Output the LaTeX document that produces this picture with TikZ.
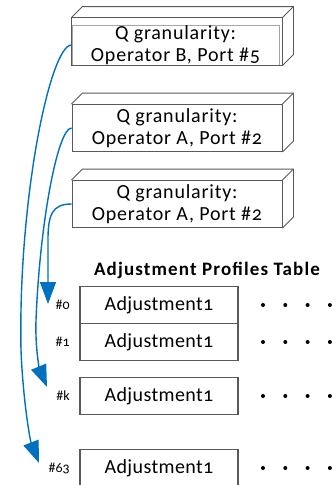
\documentclass[tikz,border=0pt]{standalone}
\usepackage{fontspec}
\setmainfont{Carlito}[Numbers=OldStyle]
\usetikzlibrary{arrows.meta,calc,positioning}
\definecolor{flowblue}{RGB}{0,112,192}
\definecolor{edgegray}{RGB}{89,89,89}
\tikzset{
  >=Latex,
  qbox/.style={draw=edgegray, line width=0.9pt, minimum width=210pt, minimum height=47pt, inner sep=0pt, align=center, font=\fontsize{20}{22}\selectfont\addfontfeature{LetterSpace=4}},
  face/.style={draw=edgegray, line width=0.9pt},
  row/.style={draw=edgegray, line width=1.2pt, minimum width=158pt, minimum height=37pt, inner sep=0pt, outer sep=0pt, font=\fontsize{20}{22}\selectfont\addfontfeature{LetterSpace=2}},
  idx/.style={font=\fontsize{14}{16}\selectfont, inner sep=0pt},
  flow/.style={draw=flowblue, line width=1.4pt, -{Triangle[length=22pt,width=16pt]}},
}
\begin{document}
\begin{tikzpicture}[x=1pt,y=-1pt]
\useasboundingbox (0,0) rectangle (336,485);
\def\dx{11}
% queue granularity boxes, front faces
\node[qbox, minimum width=207pt, minimum height=40pt, draw=gray!70] (q1) at (175.5,45) {Q granularity:\\Operator B, Port \#5};
\node[qbox] (q2) at (177,128) {Q granularity:\\Operator A, Port \#2};
\node[qbox] (q3) at (177,204) {Q granularity:\\Operator A, Port \#2};
% front corners (q1 has an outer frame)
\coordinate (q1-nw) at ($(q1.north west)+(0,-7)$);
\coordinate (q1-ne) at ($(q1.north east)+(3,-7)$);
\coordinate (q1-se) at ($(q1.south east)+(3,0)$);
\draw[face] (q1.south west) -- (q1-nw) -- (q1-ne) -- (q1-se) -- cycle;
\foreach \q in {q2,q3}{
  \coordinate (\q-nw) at (\q.north west);
  \coordinate (\q-ne) at (\q.north east);
  \coordinate (\q-se) at (\q.south east);
}
% top + side faces
\foreach \q in {q1,q2,q3}{
  \draw[face] (\q-nw) -- ++(\dx,-\dx) -- ($(\q-ne)+(\dx,-\dx)$) -- ($(\q-se)+(\dx,-\dx)$) -- (\q-se);
  \draw[face] (\q-ne) -- ++(\dx,-\dx);
}
% profiles table
\node[font=\bfseries\fontsize{19}{20}\selectfont\addfontfeature{LetterSpace=6}] (title) at (207,270) {Adjustment Profiles Table};
\node[row] (r0) at (159,305) {Adjustment1};
\node[row, below=0pt of r0] (r1) {Adjustment1};
\node[row] (rk) at (159,396) {Adjustment1};
\node[row] (r63) at (159,468) {Adjustment1};
\node[idx, left=10pt of r0] (l0) {\#0};
\node[idx, left=10pt of r1] (l1) {\#1};
\node[idx, left=10pt of rk] (lk) {\#k};
\node[idx, left=10pt of r63] (l63) {\#63};
\foreach \r in {r0,r1,rk,r63}
  \foreach \i in {0,...,3}
    \fill ($(\r.east)+(25+22.3*\i,0)$) circle (2);
% lookups
\coordinate (t0) at (48,304);
\coordinate (tk) at (47,387);
\coordinate (t63) at (39,463);
\draw[flow] (q1.west) .. controls (50,45) and (18,200) .. (21,350) .. controls (23,400) and (30,440) .. (t63);
\draw[flow] (q2.west) .. controls (58,128) and (40,220) .. (36,320) .. controls (35,350) and (40,370) .. (tk);
\draw[flow] (q3.west) .. controls (52,204) and (48,215) .. (48,240) -- (t0);
\end{tikzpicture}
\end{document}
